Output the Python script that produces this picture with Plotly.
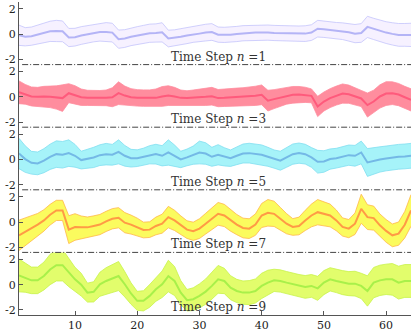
import plotly.graph_objects as go
from plotly.subplots import make_subplots

# time index
steps = list(range(1, 65))

# panel n=1
mean_1 = [-0.08, -0.2, -0.15, -0.03, 0.1, 0.23, 0.26, 0.23, -0.26, -0.23, -0.1, 0.0, 0.1, 0.18, 0.18, 0.13,
          -0.39, -0.34, -0.2, -0.1, 0.0, 0.08, 0.1, 0.15, -0.34, -0.29, -0.2, -0.1, 0.0, 0.05, 0.13, 0.18,
          -0.03, -0.05, -0.03, 0.02, 0.08, 0.1, 0.13, 0.16, 0.13, 0.1, 0.08, 0.08, 0.05, 0.05, 0.05, 0.13,
          0.44, 0.39, 0.34, 0.29, 0.24, 0.16, 0.05, 0.1, 0.58, 0.42, 0.26, 0.13, 0.03, -0.05, -0.05, -0.05]
spread_1 = [0.8, 0.72, 0.72, 0.75, 0.78, 0.8, 0.84, 0.82, 0.72, 0.7, 0.7, 0.68, 0.7, 0.72, 0.74, 0.74,
            0.72, 0.7, 0.7, 0.7, 0.7, 0.72, 0.72, 0.76, 0.66, 0.64, 0.64, 0.64, 0.64, 0.66, 0.66, 0.66,
            0.6, 0.6, 0.6, 0.6, 0.6, 0.6, 0.6, 0.6, 0.6, 0.6, 0.6, 0.6, 0.6, 0.6, 0.62, 0.62,
            0.66, 0.64, 0.64, 0.64, 0.66, 0.7, 0.72, 0.74, 0.84, 0.84, 0.86, 0.86, 0.88, 0.9, 0.9, 0.92]

# panel n=3
mean_3 = [0.36, 0.2, 0.03, 0.0, 0.03, 0.0, -0.05, -0.1, 0.29, 0.16, -0.03, -0.08, -0.1, -0.1, -0.08, -0.03,
          0.29, 0.1, -0.03, -0.08, -0.1, -0.1, -0.08, 0.03, 0.1, 0.03, -0.08, -0.1, -0.08, -0.03, 0.0, 0.05,
          -0.1, -0.08, -0.05, -0.03, 0.0, 0.03, 0.08, 0.16, -0.3, -0.18, -0.05, 0.08, 0.16, 0.18, 0.16, 0.08,
          -0.76, -0.37, -0.1, 0.1, 0.26, 0.21, 0.03, -0.13, -0.65, -0.37, 0.03, 0.26, 0.29, 0.18, -0.03, -0.24]
spread_3 = [0.9, 0.78, 0.75, 0.75, 0.8, 0.85, 0.92, 1.05, 0.75, 0.72, 0.65, 0.6, 0.6, 0.6, 0.62, 0.75,
            0.9, 0.75, 0.68, 0.65, 0.65, 0.65, 0.7, 0.78, 0.78, 0.72, 0.62, 0.58, 0.62, 0.65, 0.68, 0.7,
            0.68, 0.68, 0.7, 0.72, 0.72, 0.74, 0.76, 0.78, 0.82, 0.75, 0.7, 0.66, 0.66, 0.64, 0.6, 0.55,
            0.8, 0.75, 0.75, 0.75, 0.76, 0.72, 0.66, 0.64, 0.95, 0.9, 0.92, 0.94, 0.9, 0.88, 0.86, 0.88]

# panel n=5
mean_5 = [0.47, 0.03, -0.26, -0.31, -0.1, 0.21, 0.42, 0.37, 0.5, 0.29, -0.05, 0.03, 0.16, 0.34, 0.42, 0.37,
          0.6, 0.29, 0.1, 0.1, 0.21, 0.37, 0.42, 0.29, 0.55, 0.29, 0.0, 0.16, 0.34, 0.55, 0.47, 0.21,
          0.37, 0.21, 0.1, 0.29, 0.47, 0.5, 0.42, 0.37, 0.21, 0.03, -0.1, 0.16, 0.42, 0.5, 0.42, 0.16,
          -0.18, -0.16, 0.03, 0.1, 0.24, 0.34, 0.29, 0.55, -0.24, -0.1, 0.0, 0.08, 0.16, 0.21, 0.24, 0.29]
spread_5 = [1.2, 1.05, 0.9, 0.9, 0.95, 1.0, 1.05, 1.05, 1.05, 0.9, 0.7, 0.75, 0.8, 0.82, 0.85, 0.82,
            0.95, 0.82, 0.7, 0.66, 0.68, 0.72, 0.78, 0.8, 1.0, 0.85, 0.65, 0.66, 0.72, 0.9, 0.85, 0.75,
            0.8, 0.72, 0.65, 0.7, 0.75, 0.78, 0.78, 0.78, 0.75, 0.72, 0.75, 0.78, 0.8, 0.8, 0.78, 0.78,
            0.9, 0.85, 0.8, 0.78, 0.78, 0.8, 0.82, 0.9, 1.1, 1.05, 1.0, 0.98, 0.98, 0.98, 0.98, 0.98]

# panel n=7
mean_7 = [-1.05, -0.78, -0.52, -0.2, 0.13, 0.58, 0.92, 0.92, -0.6, -0.39, -0.42, -0.42, -0.31, -0.2, 0.05, 0.26,
          0.34, -0.05, -0.2, -0.39, -0.63, -0.6, -0.31, -0.13, 0.39, 0.13, -0.26, -0.6, -0.73, -0.52, -0.13, 0.26,
          0.65, 0.52, 0.13, -0.2, -0.47, -0.52, -0.2, 0.52, 0.73, 0.65, 0.26, -0.13, -0.39, -0.31, 0.13, 0.52,
          0.78, 0.65, 0.52, 0.13, -0.39, -0.52, -0.13, 1.05, 0.39, 0.31, -0.26, -0.7, -1.05, -0.92, -0.21, 0.92]
spread_7 = [1.2, 1.1, 1.0, 0.88, 0.85, 0.82, 0.8, 0.8, 1.1, 1.05, 0.9, 0.82, 0.8, 0.8, 0.8, 0.8,
            0.8, 0.8, 0.75, 0.7, 0.62, 0.62, 0.7, 0.75, 0.85, 0.8, 0.75, 0.7, 0.72, 0.78, 0.82, 0.85,
            0.9, 0.88, 0.85, 0.8, 0.78, 0.78, 0.85, 0.95, 1.05, 1.0, 0.9, 0.8, 0.66, 0.7, 0.8, 0.9,
            1.0, 0.95, 0.9, 0.82, 0.72, 0.72, 0.85, 1.15, 0.98, 0.95, 0.9, 0.9, 0.9, 0.92, 1.05, 1.25]

# panel n=9
mean_9 = [0.73, 0.55, 0.34, 0.34, 0.68, 1.2, 1.54, 1.54, 0.94, 0.42, 0.0, -0.63, -0.57, 0.03, 0.29, 0.5,
          0.68, 0.03, -0.7, -1.28, -1.28, -0.89, -0.37, 0.03, 0.68, 0.29, -0.63, -1.23, -1.15, -0.89, -0.55, -0.1,
          0.42, 0.29, -0.24, -0.5, -0.63, -0.63, -0.5, -0.1, 0.16, 0.34, 0.29, 0.16, 0.03, -0.1, -0.18, -0.1,
          -0.29, 0.16, 0.42, 0.29, 0.16, 0.08, 0.08, -0.1, -0.5, 0.16, 0.34, 0.42, 0.42, 0.16, 0.29, 0.29]
spread_9 = [1.3, 1.15, 1.05, 1.05, 1.1, 1.2, 1.25, 1.25, 1.1, 0.95, 0.9, 0.75, 0.8, 0.95, 1.05, 1.1,
            1.15, 1.0, 0.85, 0.75, 0.8, 0.9, 0.95, 1.05, 1.25, 1.15, 0.95, 0.85, 0.9, 0.95, 1.0, 1.05,
            1.1, 1.0, 0.95, 0.92, 0.92, 0.95, 0.95, 1.0, 0.98, 0.88, 0.88, 0.88, 0.88, 0.9, 0.9, 0.9,
            0.95, 0.95, 0.92, 0.92, 0.95, 0.95, 0.98, 1.0, 1.2, 1.2, 1.2, 1.2, 1.25, 1.3, 1.3, 1.3]

step_labels = ['1', '3', '5', '7', '9']
means = [mean_1, mean_3, mean_5, mean_7, mean_9]
spreads = [spread_1, spread_3, spread_5, spread_7, spread_9]

# (fill, band edge, mean line)
colors = [
    ('#f6f1ff', '#c4c4fb', '#b4b4f6'),
    ('#ff8d9e', '#ff8d9e', '#ff5a7c'),
    ('#a6f3f9', '#80def0', '#74b9e6'),
    ('#fbfb5e', '#ffb84a', '#ff9a45'),
    ('#e2fd6c', '#c8f24a', '#a8f04a'),
]

serif = 'DejaVu Serif'
fig = make_subplots(rows=5, cols=1, shared_xaxes=True, vertical_spacing=0)

for k in range(5):
    fill, edge, line = colors[k]
    upper = [m + s for m, s in zip(means[k], spreads[k])]
    lower = [m - s for m, s in zip(means[k], spreads[k])]
    fig.add_trace(go.Scatter(x=steps, y=upper, mode='lines', line=dict(color=edge, width=0.8),
                             showlegend=False, hoverinfo='skip'), row=k + 1, col=1)
    fig.add_trace(go.Scatter(x=steps, y=lower, mode='lines', line=dict(color=edge, width=0.8),
                             fill='tonexty', fillcolor=fill, showlegend=False, hoverinfo='skip'), row=k + 1, col=1)
    fig.add_trace(go.Scatter(x=steps, y=means[k], mode='lines', line=dict(color=line, width=2),
                             showlegend=False), row=k + 1, col=1)

    yname = 'y' if k == 0 else f'y{k + 1}'
    xname = 'x' if k == 0 else f'x{k + 1}'
    if k < 4:
        # dash-dot separator at the bottom of each upper panel
        fig.add_shape(type='line', xref=f'{xname} domain', yref=f'{yname} domain',
                      x0=0.008, x1=1, y0=0, y1=0,
                      line=dict(color='#444444', width=1, dash='6px,2px,1px,2px'))
    fig.add_annotation(text=f'Time Step <i>n</i> ={step_labels[k]}', xref='paper', x=0.51,
                       yref=f'{yname} domain', y=0, yanchor='bottom', yshift=-1, showarrow=False,
                       font=dict(family=serif, size=12, color='#333333'))

    fig.update_yaxes(range=[-2.4, 2.55], tickvals=[-2, 0, 2], ticktext=['-2', '0', '2'],
                     ticks='inside', ticklen=4, tickcolor='#555555', showline=True, linecolor='#555555',
                     linewidth=1, showgrid=False, zeroline=False, row=k + 1, col=1)
    fig.update_xaxes(range=[1, 64], showgrid=False, zeroline=False, row=k + 1, col=1,
                     ticks='inside' if k == 4 else '', showline=(k == 4), linecolor='#555555',
                     tickvals=[10, 20, 30, 40, 50, 60], ticklen=4, tickcolor='#555555')

fig.update_layout(
    width=415, height=334,
    margin=dict(l=19, r=3.5, t=2, b=17),
    plot_bgcolor='white', paper_bgcolor='white',
    font=dict(family=serif, size=11, color='#222222'),
)

fig.write_html("out.html", config={'displayModeBar': False},
               post_script="document.body.style.margin='0';")
